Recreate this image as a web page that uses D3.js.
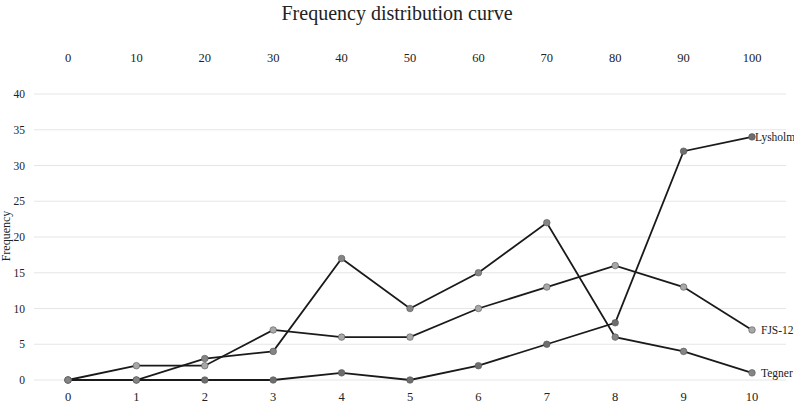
<!DOCTYPE html>
<html>
<head>
<meta charset="utf-8">
<script src="https://cdn.jsdelivr.net/npm/d3@7"></script>
<style>
  body { margin: 0; background: #fff; }
</style>
</head>
<body>
<div id="chart"></div>
<script>
// values
const xValues = [0, 1, 2, 3, 4, 5, 6, 7, 8, 9, 10];
const topTicks = [0, 10, 20, 30, 40, 50, 60, 70, 80, 90, 100];
const yTicks = [0, 5, 10, 15, 20, 25, 30, 35, 40];
const lysholm = [0, 0, 0, 0, 1, 0, 2, 5, 8, 32, 34];
const fjs12 = [0, 2, 2, 7, 6, 6, 10, 13, 16, 13, 7];
const tegner = [0, 0, 3, 4, 17, 10, 15, 22, 6, 4, 1];
const seriesNames = ["Lysholm", "FJS-12", "Tegner"];
const markerFill = ["#6e6e6e", "#a8a8a8", "#858585"];

const width = 794;
const height = 408;
const font = "Liberation Serif";

const svg = d3.select("#chart")
  .append("svg")
  .attr("width", width)
  .attr("height", height);

const x = d3.scaleLinear().domain([0, 10]).range([68, 752]);
const xTop = d3.scaleLinear().domain([0, 100]).range([68, 752]);
const y = d3.scaleLinear().domain([0, 40]).range([380, 94]);

function addText(sel) {
  return sel.attr("font-family", font).attr("fill", "#222");
}

// title
svg.append("text")
  .call(addText)
  .attr("x", 397).attr("y", 20)
  .attr("text-anchor", "middle")
  .attr("font-size", 20)
  .text("Frequency distribution curve");

// gridlines
svg.append("g")
  .selectAll("line")
  .data(yTicks)
  .join("line")
  .attr("x1", 34).attr("x2", 786)
  .attr("y1", d => y(d)).attr("y2", d => y(d))
  .attr("stroke", "#e6e6e6")
  .attr("stroke-width", 1);

// y tick labels
svg.append("g")
  .selectAll("text")
  .data(yTicks)
  .join("text")
  .call(addText)
  .attr("x", 25).attr("y", d => y(d))
  .attr("dy", "0.35em")
  .attr("text-anchor", "end")
  .attr("font-size", 11.5)
  .text(d => d);

// y label
svg.append("text")
  .call(addText)
  .attr("transform", "translate(10,236) rotate(-90)")
  .attr("text-anchor", "middle")
  .attr("font-size", 12)
  .text("Frequency");

// bottom tick labels
svg.append("g")
  .selectAll("text")
  .data(xValues)
  .join("text")
  .call(addText)
  .attr("x", d => x(d)).attr("y", 397)
  .attr("dy", "0.35em")
  .attr("text-anchor", "middle")
  .attr("font-size", 12.5)
  .text(d => d);

// top tick labels
svg.append("g")
  .selectAll("text")
  .data(topTicks)
  .join("text")
  .call(addText)
  .attr("x", d => xTop(d)).attr("y", 58)
  .attr("dy", "0.35em")
  .attr("text-anchor", "middle")
  .attr("font-size", 12.5)
  .text(d => d);

const series = [lysholm, fjs12, tegner].map((vals, i) => ({
  name: seriesNames[i],
  fill: markerFill[i],
  points: vals.map((v, j) => ({ x: xValues[j], y: v }))
}));

const line = d3.line().x(d => x(d.x)).y(d => y(d.y));

svg.append("g")
  .selectAll("path")
  .data(series)
  .join("path")
  .attr("d", d => line(d.points))
  .attr("fill", "none")
  .attr("stroke", "#1a1a1a")
  .attr("stroke-width", 1.8);

series.forEach(s => {
  svg.append("g")
    .selectAll("circle")
    .data(s.points)
    .join("circle")
    .attr("cx", d => x(d.x))
    .attr("cy", d => y(d.y))
    .attr("r", 3.3)
    .attr("fill", s.fill)
    .attr("stroke", "#555")
    .attr("stroke-width", 0.6);
});

// series labels at the last point
svg.append("g")
  .selectAll("text")
  .data(series)
  .join("text")
  .call(addText)
  .attr("x", d => x(10) + (d.name === "Lysholm" ? 3 : 9))
  .attr("y", d => y(d.points[d.points.length - 1].y))
  .attr("dy", "0.35em")
  .attr("font-size", 11.5)
  .text(d => d.name);
</script>
</body>
</html>
